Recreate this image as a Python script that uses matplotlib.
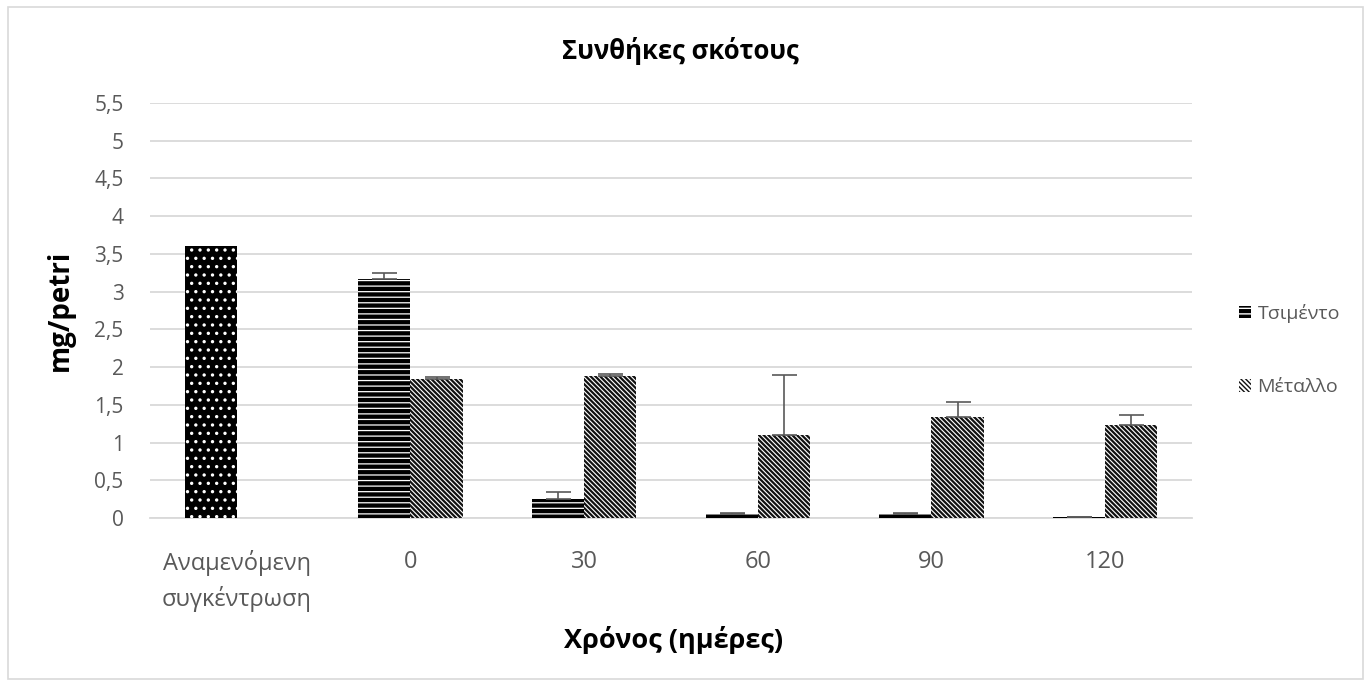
import numpy as np
import matplotlib
matplotlib.use('Agg')
import matplotlib.pyplot as plt
import matplotlib.patches as mpatches
from matplotlib.ticker import FuncFormatter

plt.rcParams['font.family'] = ['Open Sans', 'DejaVu Sans']

categories = ['Αναμενόμενη\nσυγκέντρωση', '0', '30', '60', '90', '120']
expected = 3.6
cement = [3.17, 0.25, 0.05, 0.05, 0.01]
cement_err = [0.08, 0.09, 0.01, 0.01, 0.0]
metal = [1.84, 1.88, 1.10, 1.34, 1.23]
metal_err = [0.03, 0.03, 0.80, 0.20, 0.13]

grey = '#595959'


def set_hlw(artists, lw):
    # per-artist hatch linewidth (matplotlib >= 3.10)
    for a in artists:
        if hasattr(a, 'set_hatch_linewidth'):
            a.set_hatch_linewidth(lw)


fig = plt.figure(figsize=(13.71, 6.86), dpi=100)
ax = fig.add_axes([0.1094, 0.2449, 0.76, 0.6050])

x = np.arange(len(categories))
w = 0.3

with plt.rc_context({'hatch.linewidth': 1.2}):
    b0 = ax.bar(x[0] - w / 2, expected, w, facecolor='black', edgecolor='white',
                hatch='..', linewidth=0, zorder=3)
set_hlw(b0, 1.2)

with plt.rc_context({'hatch.linewidth': 0.9}):
    b1 = ax.bar(x[1:] - w / 2, cement, w, facecolor='black', edgecolor='white',
                hatch='---', linewidth=0, zorder=3)
set_hlw(b1, 0.9)

with plt.rc_context({'hatch.linewidth': 1.6}):
    b2 = ax.bar(x[1:] + w / 2, metal, w, facecolor='white', edgecolor='#111111',
                hatch='\\' * 7, linewidth=0, zorder=3)
set_hlw(b2, 1.6)

ax.errorbar(x[1:] - w / 2, cement, yerr=[np.zeros(5), cement_err], fmt='none',
            ecolor=grey, elinewidth=1.2, capsize=9, capthick=1.2, zorder=4)
ax.errorbar(x[1:] + w / 2, metal, yerr=[np.zeros(5), metal_err], fmt='none',
            ecolor=grey, elinewidth=1.2, capsize=9, capthick=1.2, zorder=4)

ax.set_xlim(-0.5, len(categories) - 0.5)
ax.set_ylim(0, 5.5)
ax.set_yticks(np.arange(0, 5.51, 0.5))
ax.yaxis.set_major_formatter(FuncFormatter(lambda v, p: ('%g' % v).replace('.', ',')))
ax.set_xticks(x)
ax.set_xticklabels(categories, fontsize=17, color=grey, linespacing=1.5)
ax.tick_params(axis='y', labelsize=15, labelcolor=grey, length=0, pad=19)
ax.tick_params(axis='x', length=0, pad=23)
ax.grid(axis='y', color='#d9d9d9', linewidth=1.3, zorder=0)
for s in ['top', 'right', 'left']:
    ax.spines[s].set_visible(False)
ax.spines['bottom'].set_color('#d9d9d9')
ax.spines['bottom'].set_linewidth(1.3)

fig.text(0.496, 0.925, 'Συνθήκες σκότους', fontsize=18.5, fontweight='bold',
         ha='center', va='center')
ax.set_ylabel('mg/petri', fontsize=20, fontweight='bold')
ax.yaxis.set_label_coords(-0.072, 0.5)
fig.text(0.491, 0.067, 'Χρόνος (ημέρες)', fontsize=19.5, fontweight='bold',
         ha='center', va='center')

hc = mpatches.Patch(facecolor='black', edgecolor='white', hatch='---', linewidth=0, label='Τσιμέντο')
hm = mpatches.Patch(facecolor='white', edgecolor='#111111', hatch='\\' * 7, linewidth=0, label='Μέταλλο')
fig.legend(handles=[hc, hm], loc='center left', bbox_to_anchor=(0.891, 0.4895),
           frameon=False, fontsize=14, labelcolor=grey, labelspacing=2.85,
           handlelength=0.6, handleheight=0.6, handletextpad=0.35)

fig.patches.append(mpatches.Rectangle((0.006, 0.01), 0.988, 0.98, transform=fig.transFigure,
                                      fill=False, edgecolor='#d9d9d9', linewidth=1.2))

fig.savefig('out.png', dpi=100, facecolor='white')
